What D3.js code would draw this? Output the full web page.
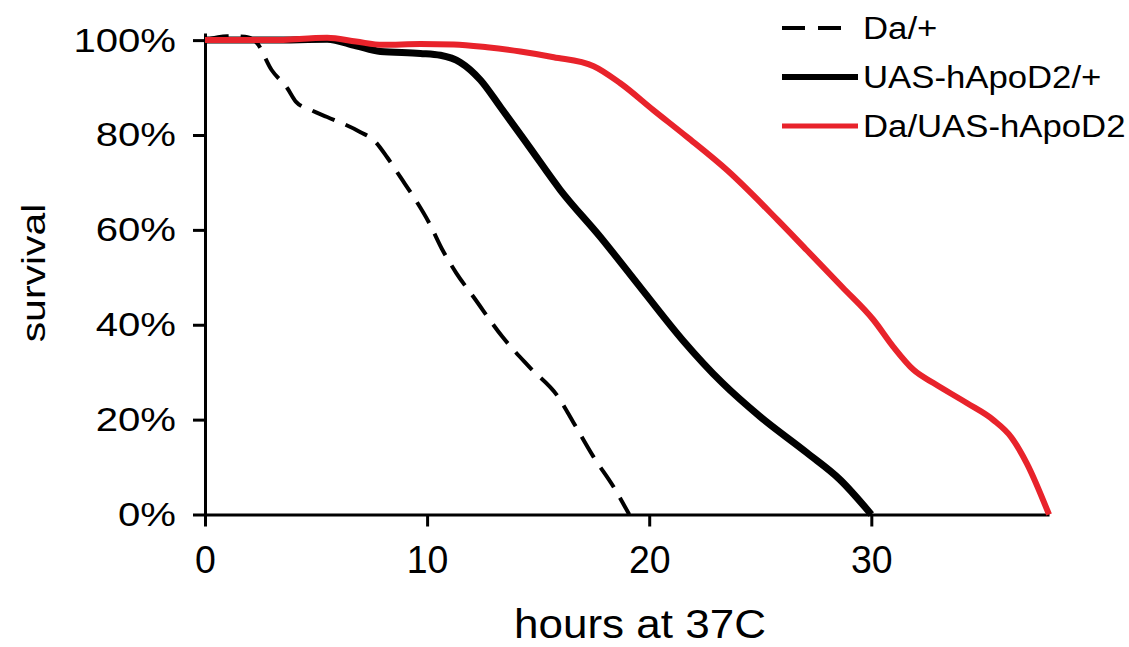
<!DOCTYPE html>
<html>
<head>
<meta charset="utf-8">
<script src="https://cdn.jsdelivr.net/npm/d3@7"></script>
<style>
  body { margin: 0; background: #fff; }
  text { font-family: "Liberation Sans", Arial, sans-serif; fill: #000; }
</style>
</head>
<body>
<svg id="chart" width="1129" height="647"></svg>
<script>
// ------------------------------------------------------------
// data: [hours at 37C, survival %]
// ------------------------------------------------------------
let seriesNames = ["Da/+", "UAS-hApoD2/+", "Da/UAS-hApoD2"];

let daPlus = [
  [0, 100], [1, 100.8], [1.8, 100.7], [2.3, 99.6], [3.0, 93.7], [3.7, 89.9],
  [4.1, 87.0], [4.8, 85.2], [5.5, 83.8], [7.0, 80.6], [7.6, 78.9], [8.2, 75.3],
  [8.8, 71.1], [9.4, 66.9], [10.1, 61.4], [10.7, 55.7], [11.3, 51.0], [12.1, 45.8],
  [13.4, 37.4], [14.6, 31.1], [15.9, 24.8], [16.6, 19.3], [17.5, 12.1],
  [18.4, 5.8], [19.1, 0]
];

let uasPlus = [
  [0, 100], [3, 100], [5.5, 100.2], [6.8, 98.8], [7.9, 97.6], [9.7, 97.2],
  [10.6, 96.8], [11.5, 95.3], [12.4, 91.6], [13.3, 85.9], [14.6, 77.5],
  [16.0, 68.4], [17.8, 58.5], [19.7, 47.3], [21.5, 36.8], [23.3, 27.7],
  [25.0, 20.6], [27.1, 13.0], [28.6, 7.3], [30.0, 0]
];

let daUas = [
  [0, 100], [3, 100], [5.5, 100.5], [6.8, 99.7], [8.0, 99.0], [9.7, 99.2],
  [11.2, 99.1], [12.7, 98.5], [14.2, 97.6], [15.7, 96.4], [17.5, 94.5],
  [18.7, 90.9], [20.2, 85.2], [21.7, 79.6], [23.5, 72.6], [25.8, 62.0],
  [27.1, 55.7], [28.7, 47.9], [30.1, 41.0], [31.0, 35.3], [31.9, 30.5],
  [32.8, 27.7], [34.3, 23.5], [35.5, 19.9], [36.3, 16.3], [37.0, 10.8], [38.0, 0]
];

let xTicks = [0, 10, 20, 30];
let yTicks = [0, 20, 40, 60, 80, 100];

// ------------------------------------------------------------
// setup
// ------------------------------------------------------------
let svg = d3.select("#chart");
svg.append("rect").attr("width", 1129).attr("height", 647).attr("fill", "#fff");

let x = d3.scaleLinear().domain([0, 38]).range([205, 1049]);
let y = d3.scaleLinear().domain([0, 101.5]).range([514.5, 33]);

let RED = "#e8232b";

// stretch text horizontally like the (widened) original figure
function stretch(sel, k) {
  sel.each(function() {
    let len = this.getComputedTextLength();
    d3.select(this).attr("textLength", len * k).attr("lengthAdjust", "spacingAndGlyphs");
  });
}

// ------------------------------------------------------------
// axes
// ------------------------------------------------------------
let xAxis = svg.append("g")
  .attr("transform", "translate(0," + y(0) + ")")
  .call(d3.axisBottom(x).tickValues(xTicks).tickSize(12).tickSizeOuter(0).tickPadding(19));

let yAxis = svg.append("g")
  .attr("transform", "translate(" + x(0) + ",0)")
  .call(d3.axisLeft(y).tickValues(yTicks).tickSize(12).tickSizeOuter(0).tickPadding(17)
    .tickFormat(function(d) { return d + "%"; }));

[xAxis, yAxis].forEach(function(a) {
  a.select(".domain").attr("stroke", "#000").attr("stroke-width", 3);
  a.selectAll(".tick line").attr("stroke", "#000").attr("stroke-width", 3);
});

xAxis.selectAll(".tick text")
  .attr("font-size", 39)
  .attr("font-family", "Liberation Sans, Arial, sans-serif")
  .attr("fill", "#000");
stretch(xAxis.selectAll(".tick text"), 0.96);

yAxis.selectAll(".tick text")
  .attr("font-size", 34)
  .attr("font-family", "Liberation Sans, Arial, sans-serif")
  .attr("fill", "#000");
stretch(yAxis.selectAll(".tick text"), 1.18);

// axis titles
let xTitle = svg.append("text")
  .attr("x", 640).attr("y", 638)
  .attr("text-anchor", "middle")
  .attr("font-size", 40)
  .text("hours at 37C");
stretch(xTitle, 1.1);

let yTitle = svg.append("text")
  .attr("transform", "translate(45,273) rotate(-90)")
  .attr("text-anchor", "middle")
  .attr("font-size", 33)
  .text("survival");
stretch(yTitle, 1.24);

// ------------------------------------------------------------
// survival curves
// ------------------------------------------------------------
let line = d3.line()
  .x(function(d) { return x(d[0]); })
  .y(function(d) { return y(d[1]); })
  .curve(d3.curveMonotoneX);

let styles = [
  { data: daPlus, color: "#000", width: 4, dash: "24,12", legendWidth: 4 },
  { data: uasPlus, color: "#000", width: 7, dash: null, legendWidth: 6 },
  { data: daUas, color: RED, width: 6, dash: null, legendWidth: 5 }
];

svg.append("g").selectAll("path")
  .data(styles)
  .enter().append("path")
    .attr("d", function(d) { return line(d.data); })
    .attr("fill", "none")
    .attr("stroke", function(d) { return d.color; })
    .attr("stroke-width", function(d) { return d.width; })
    .attr("stroke-dasharray", function(d) { return d.dash; })
    .attr("stroke-linejoin", "round");

// ------------------------------------------------------------
// legend
// ------------------------------------------------------------
let legend = svg.append("g").selectAll("g")
  .data(styles)
  .enter().append("g")
    .attr("transform", function(d, i) { return "translate(782," + (28 + i * 49) + ")"; });

legend.append("line")
  .attr("x1", 0)
  .attr("x2", function(d) { return d.dash ? 63 : 76; })
  .attr("stroke", function(d) { return d.color; })
  .attr("stroke-width", function(d) { return d.legendWidth; })
  .attr("stroke-dasharray", function(d) { return d.dash ? "23,13" : null; });

let legendText = legend.append("text")
  .attr("x", 81)
  .attr("y", 11)
  .attr("font-size", 31)
  .text(function(d, i) { return seriesNames[i]; });
stretch(legendText, 1.12);
</script>
</body>
</html>
